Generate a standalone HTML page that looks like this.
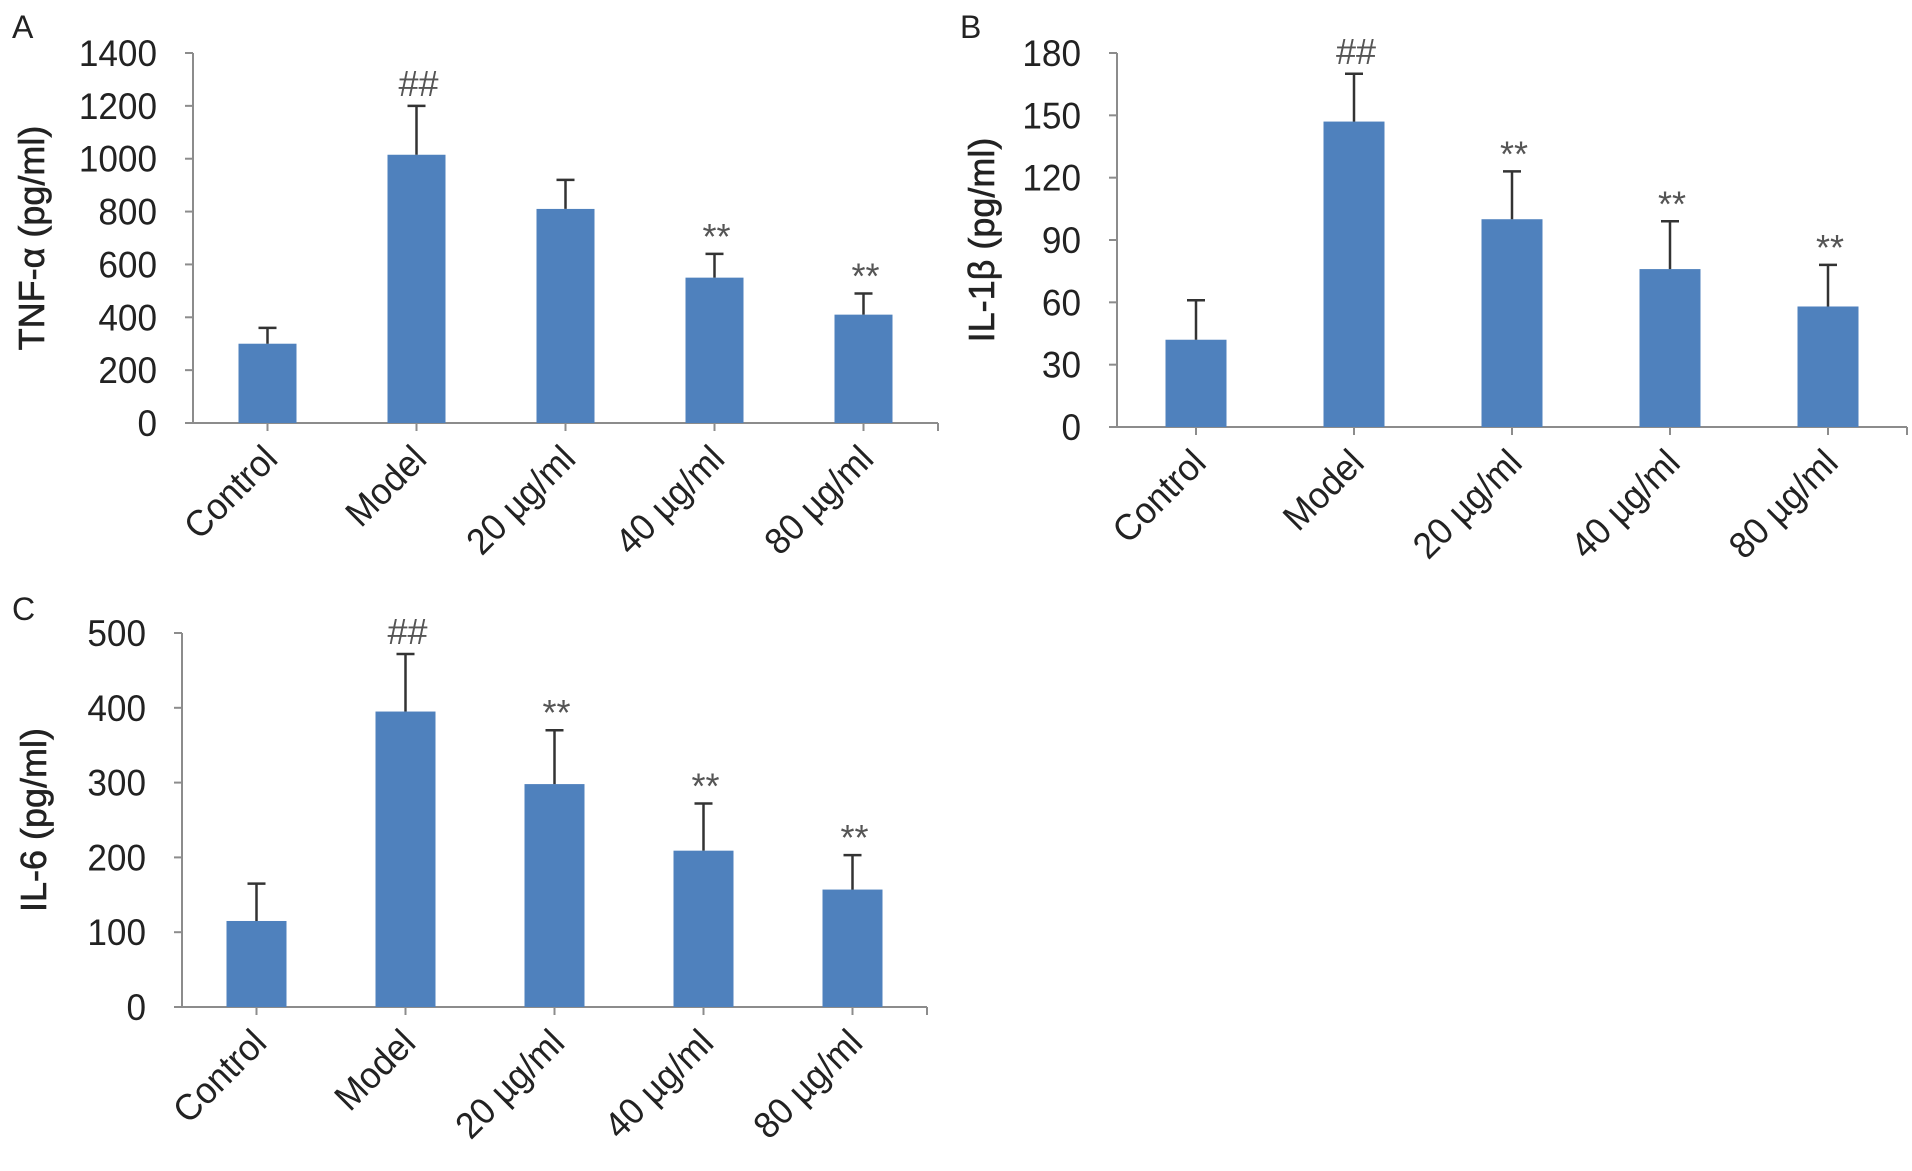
<!DOCTYPE html>
<html><head><meta charset="utf-8"><style>
html,body{margin:0;padding:0;background:#fff;}
svg{display:block;font-family:"Liberation Sans",Arial,sans-serif;}
</style></head><body>
<svg id="fig" width="1912" height="1171" viewBox="0 0 1912 1171"></svg>
<script>
const categories = ["Control","Model","20 \u00b5g/ml","40 \u00b5g/ml","80 \u00b5g/ml"];
const tnfValues = [300,1015,810,550,410];
const tnfErrors = [360,1200,920,640,490];
const tnfMarks = ["","##","","**","**"];
const tnfTicks = [0,200,400,600,800,1000,1200,1400];
const il1bValues = [42,147,100,76,58];
const il1bErrors = [61,170,123,99,78];
const il1bMarks = ["","##","**","**","**"];
const il1bTicks = [0,30,60,90,120,150,180];
const il6Values = [115,395,298,209,157];
const il6Errors = [165,472,370,272,203];
const il6Marks = ["","##","**","**","**"];
const il6Ticks = [0,100,200,300,400,500];

const NS="http://www.w3.org/2000/svg";
const svg=document.getElementById('fig');
function mk(tag,attrs,parent){const e=document.createElementNS(NS,tag);for(const k in attrs)e.setAttribute(k,attrs[k]);(parent||svg).appendChild(e);return e;}

function panel(o){
  const g=mk('g',{});
  
  
  const max=o.ticks[o.ticks.length-1];
  const y=v=>o.y0-(v/max)*(o.y0-o.yTop);
  const cx=i=>o.x0+o.step*(i+0.5);
  const xEnd=o.x0+o.step*o.cats.length;
  const letter=mk('text',{x:o.lx,y:o.ly,'font-size':32,fill:'#222'},g);
  letter.textContent=o.letter;
  
  
  const ya=mk('line',{x1:o.x0,y1:o.yTop,x2:o.x0,y2:o.y0,stroke:'#8c8c8c','stroke-width':2},g);
  
  
  const xa=mk('line',{x1:o.x0-8,y1:o.y0,x2:xEnd,y2:o.y0,stroke:'#8c8c8c','stroke-width':2},g);
  
  
  mk('line',{x1:xEnd,y1:o.y0,x2:xEnd,y2:o.y0+8,stroke:'#8c8c8c','stroke-width':2},g);
  o.ticks.forEach(t=>{
    mk('line',{x1:o.x0-8,y1:y(t),x2:o.x0,y2:y(t),stroke:'#8c8c8c','stroke-width':2},g);
    const tl=mk('text',{x:0,y:0,'font-size':37,'text-anchor':'end',fill:'#222',transform:`translate(${o.x0-36},${y(t)+13}) scale(0.95,1)`},g);
    tl.textContent=t;
    
    
  });
  const yt=mk('text',{x:0,y:0,'font-size':36,'text-anchor':'middle',fill:'#222','stroke':'#222','stroke-width':0.6,transform:`translate(${o.tx},${(o.yTop+o.y0)/2}) rotate(-90)`},g);
  yt.textContent=o.title;
  
  
  o.cats.forEach((c,i)=>{
    const x=cx(i);
    mk('line',{x1:x,y1:o.y0,x2:x,y2:o.y0+8,stroke:'#8c8c8c','stroke-width':2},g);
    const bar=mk('rect',{x:x-o.bw/2,y:y(o.vals[i]),width:o.bw,height:o.y0-y(o.vals[i]),fill:'#4f81bd'},g);
    
    
    const ey=y(o.errs[i]);
    const eb=mk('path',{d:`M${x},${y(o.vals[i])}V${ey}M${x-9},${ey}H${x+9}`,stroke:'#333','stroke-width':2.5,fill:'none'},g);
    
    
    if(o.marks[i]){
      const isH=o.marks[i]==='##';
      const m=mk('text',{x:x+2,y:ey-(isH?10:5),'font-size':isH?36:36,'text-anchor':'middle',fill:'#555'},g);
      m.textContent=o.marks[i];
      
      
    }
    const cl=mk('text',{x:0,y:0,'font-size':37,'text-anchor':'end',fill:'#222',transform:`translate(${x+12},${o.y0+38}) rotate(-45) scale(0.95,1)`},g);
    cl.textContent=c;
    
    
  });
}
panel({id:'tnf',letter:'A',lx:12,ly:38,x0:193,step:149,bw:58,yTop:53,y0:423,tx:44,title:'TNF-\u03b1 (pg/ml)',cats:categories,vals:tnfValues,errs:tnfErrors,marks:tnfMarks,ticks:tnfTicks});
panel({id:'il1b',letter:'B',lx:960,ly:38,x0:1117,step:158,bw:61,yTop:53,y0:427,tx:994,title:'IL-1\u03b2 (pg/ml)',cats:categories,vals:il1bValues,errs:il1bErrors,marks:il1bMarks,ticks:il1bTicks});
panel({id:'il6',letter:'C',lx:12,ly:620,x0:182,step:149,bw:60,yTop:633,y0:1007,tx:46,title:'IL-6 (pg/ml)',cats:categories,vals:il6Values,errs:il6Errors,marks:il6Marks,ticks:il6Ticks});
</script>
</body></html>
